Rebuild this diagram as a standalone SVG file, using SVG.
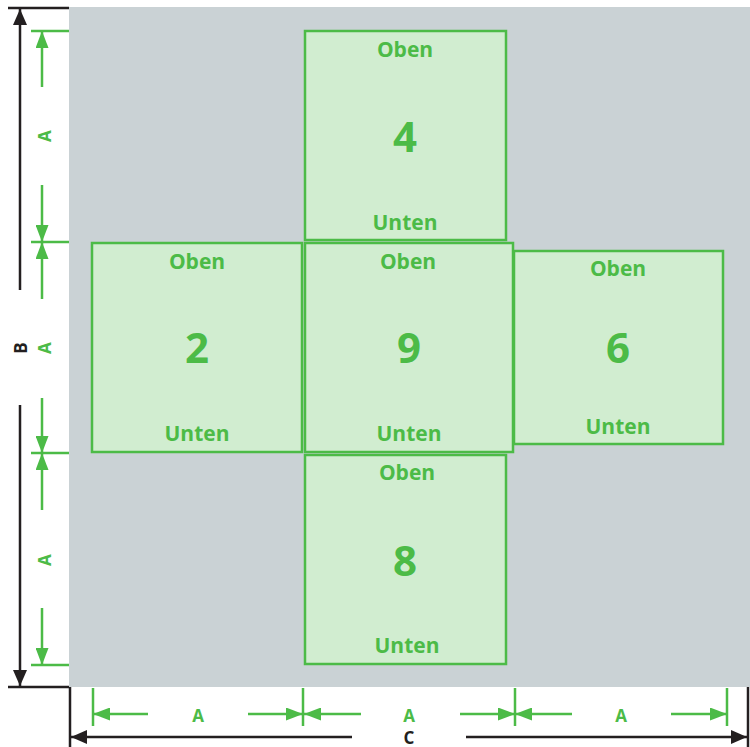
<svg xmlns="http://www.w3.org/2000/svg" width="750" height="747" viewBox="0 0 750 747">
<style>
.box rect{fill:#d1edd0;stroke:#4cbb47;stroke-width:2.5}
.box text{fill:#4cbb47;font-family:"Open Sans","Liberation Sans",sans-serif;font-weight:bold;text-anchor:middle}
.lbl{font-size:21px}
.num{font-size:42px}
.g{stroke:#4cbb47;stroke-width:2.5;fill:none}
.k{stroke:#231f20;stroke-width:2.5;fill:none}
.ga{marker-end:url(#ag)}
.ka{marker-end:url(#ak)}
.dt{font-family:"Open Sans","Liberation Sans",sans-serif;font-weight:bold;font-size:17px;text-anchor:middle;dominant-baseline:central}
</style>
<defs>
<marker id="ag" viewBox="0 0 17 13" refX="17" refY="6.5" markerWidth="17" markerHeight="13" markerUnits="userSpaceOnUse" orient="auto"><path d="M0,0 L17,6.5 L0,13 z" fill="#4cbb47"/></marker>
<marker id="ak" viewBox="0 0 16 14" refX="16" refY="7" markerWidth="16" markerHeight="14" markerUnits="userSpaceOnUse" orient="auto"><path d="M0,0 L16,7 L0,14 z" fill="#231f20"/></marker>
</defs>
<rect x="0" y="0" width="750" height="747" fill="#ffffff"/>
<rect x="69" y="7" width="681" height="680" fill="#cad2d5"/>

<g id="box4" class="box"><rect x="305" y="31" width="201" height="209"/><text class="lbl" x="405" y="57">Oben</text><text class="num" x="405" y="152">4</text><text class="lbl" x="405" y="230">Unten</text></g>
<g id="box2" class="box"><rect x="92" y="243" width="210" height="209"/><text class="lbl" x="197" y="269">Oben</text><text class="num" x="197" y="363">2</text><text class="lbl" x="197" y="441">Unten</text></g>
<g id="box6" class="box"><rect x="514" y="251" width="209" height="193"/><text class="lbl" x="618" y="276">Oben</text><text class="num" x="618" y="363">6</text><text class="lbl" x="618" y="434">Unten</text></g>
<g id="box8" class="box"><rect x="305" y="455" width="201" height="209"/><text class="lbl" x="407" y="480">Oben</text><text class="num" x="405" y="576">8</text><text class="lbl" x="407" y="653">Unten</text></g>
<g id="box9" class="box"><rect x="305" y="243" width="208" height="209"/><text class="lbl" x="408" y="269">Oben</text><text class="num" x="409" y="363">9</text><text class="lbl" x="409" y="441">Unten</text></g>

<g id="connectors">
<line class="k" x1="8" y1="8" x2="69" y2="8"/>
<line class="k" x1="8" y1="687" x2="69" y2="687"/>
<line class="k ka" x1="20" y1="290" x2="20" y2="9"/>
<line class="k ka" x1="20" y1="405" x2="20" y2="686"/>
<line class="g" x1="31" y1="31" x2="69" y2="31"/>
<line class="g" x1="31" y1="242" x2="69" y2="242"/>
<line class="g" x1="31" y1="453" x2="69" y2="453"/>
<line class="g" x1="31" y1="665" x2="69" y2="665"/>
<line class="g ga" x1="42" y1="87" x2="42" y2="31"/>
<line class="g ga" x1="42" y1="185" x2="42" y2="242"/>
<line class="g ga" x1="42" y1="299" x2="42" y2="242"/>
<line class="g ga" x1="42" y1="398" x2="42" y2="453"/>
<line class="g ga" x1="42" y1="510" x2="42" y2="453"/>
<line class="g ga" x1="42" y1="608" x2="42" y2="665"/>
<line class="k" x1="70" y1="687" x2="70" y2="747"/>
<line class="k" x1="748" y1="687" x2="748" y2="747"/>
<line class="k ka" x1="352" y1="737" x2="71" y2="737"/>
<line class="k ka" x1="466" y1="737" x2="747" y2="737"/>
<line class="g" x1="93" y1="688" x2="93" y2="726"/>
<line class="g" x1="303" y1="688" x2="303" y2="726"/>
<line class="g" x1="515" y1="688" x2="515" y2="726"/>
<line class="g" x1="727" y1="688" x2="727" y2="726"/>
<line class="g ga" x1="148" y1="714" x2="93" y2="714"/>
<line class="g ga" x1="248" y1="714" x2="303" y2="714"/>
<line class="g ga" x1="361" y1="714" x2="304" y2="714"/>
<line class="g ga" x1="460" y1="714" x2="515" y2="714"/>
<line class="g ga" x1="572" y1="714" x2="515" y2="714"/>
<line class="g ga" x1="671" y1="714" x2="727" y2="714"/>
</g>

<g id="labels">
<text class="dt" fill="#4cbb47" x="44" y="136" transform="rotate(-90 44 136)">A</text>
<text class="dt" fill="#4cbb47" x="44" y="348" transform="rotate(-90 44 348)">A</text>
<text class="dt" fill="#4cbb47" x="44" y="560" transform="rotate(-90 44 560)">A</text>
<text class="dt" fill="#231f20" x="20" y="348" transform="rotate(-90 20 348)">B</text>
<text class="dt" fill="#4cbb47" x="198" y="715">A</text>
<text class="dt" fill="#4cbb47" x="409" y="715">A</text>
<text class="dt" fill="#4cbb47" x="621" y="715">A</text>
<text class="dt" fill="#231f20" x="409" y="737">C</text>
</g>
</svg>
